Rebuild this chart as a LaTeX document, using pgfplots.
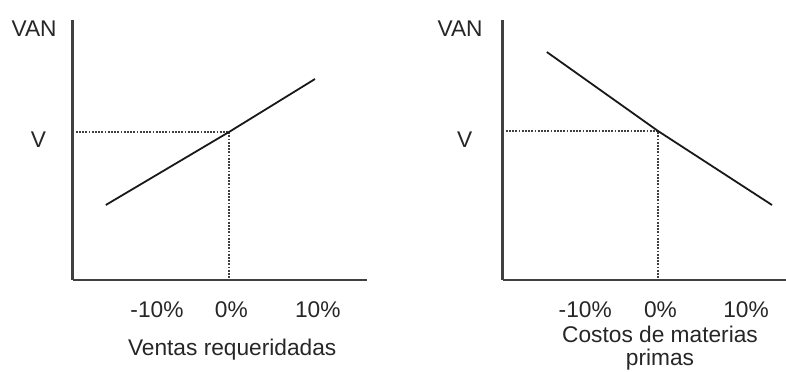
\documentclass[border=0pt]{standalone}
\usepackage{pgfplots}
\pgfplotsset{compat=1.18}
\usepackage{fontspec}
\setmainfont{Liberation Sans}
\begin{document}
\begin{tikzpicture}
\useasboundingbox (0,0) rectangle (393bp,186bp);
\pgfplotsset{
  sens/.style={
    scale only axis,
    anchor=south west,
    height=130bp,
    axis lines=left,
    axis line style={black!75, line width=1.4bp, -},
    ymin=0, ymax=26,
    major tick length=0pt,
    ytick={14}, yticklabels={V},
    tick label style={font=\fontsize{11.4}{13}\selectfont, text=black!85, inner sep=0pt},
    xticklabel style={anchor=base, yshift=-18.5bp},
    yticklabel style={anchor=center},
    ylabel={VAN},
    ylabel style={rotate=-90, at={(axis description cs:0,1)}, anchor=north east, inner sep=0pt,
                  font=\fontsize{11.4}{13}\selectfont, text=black!85},
    xlabel style={inner sep=0pt, font=\fontsize{11.4}{11.2}\selectfont, text=black!85},
    clip=false,
  },
  dots/.style={black!75, line width=0.9bp, dash pattern=on 0.9bp off 0.7bp},
}
\begin{axis}[sens, at={(36.25bp,46bp)}, width=147.25bp,
  xmin=-19.5625, xmax=17.25,
  xtick={-9,0.3,11.1}, xticklabels={-10\%,0\%,10\%},
  yticklabel style={xshift=-17bp},
  ylabel style={xshift=-7.75bp},
  xlabel={Ventas requeridadas},
  xlabel style={at={(axis cs:0.4,0)}, anchor=base, yshift=-37.5bp}]
\addplot[dots] coordinates {(-19.5625,14.8) (0,14.8) (0,0)};
\addplot[black!90, line width=0.9bp] coordinates {(-15.4,7.5) (0,14.8) (10.75,20.1)};
\end{axis}
\begin{axis}[sens, at={(251.25bp,46bp)}, width=141.75bp,
  xmin=-19.44, xmax=16,
  xtick={-9.1,0.3,11}, xticklabels={-10\%,0\%,10\%},
  yticklabel style={xshift=-18.9bp},
  ylabel style={xshift=-9.75bp},
  xlabel={Costos de materias\\primas},
  xlabel style={at={(axis cs:0.25,0)}, anchor=north, yshift=-23bp, align=center}]
\addplot[dots] coordinates {(-19.44,14.9) (0,14.9) (0,0)};
\addplot[black!90, line width=0.9bp] coordinates {(-13.9,22.8) (0,14.9) (14.25,7.5)};
\end{axis}
\end{tikzpicture}
\end{document}
